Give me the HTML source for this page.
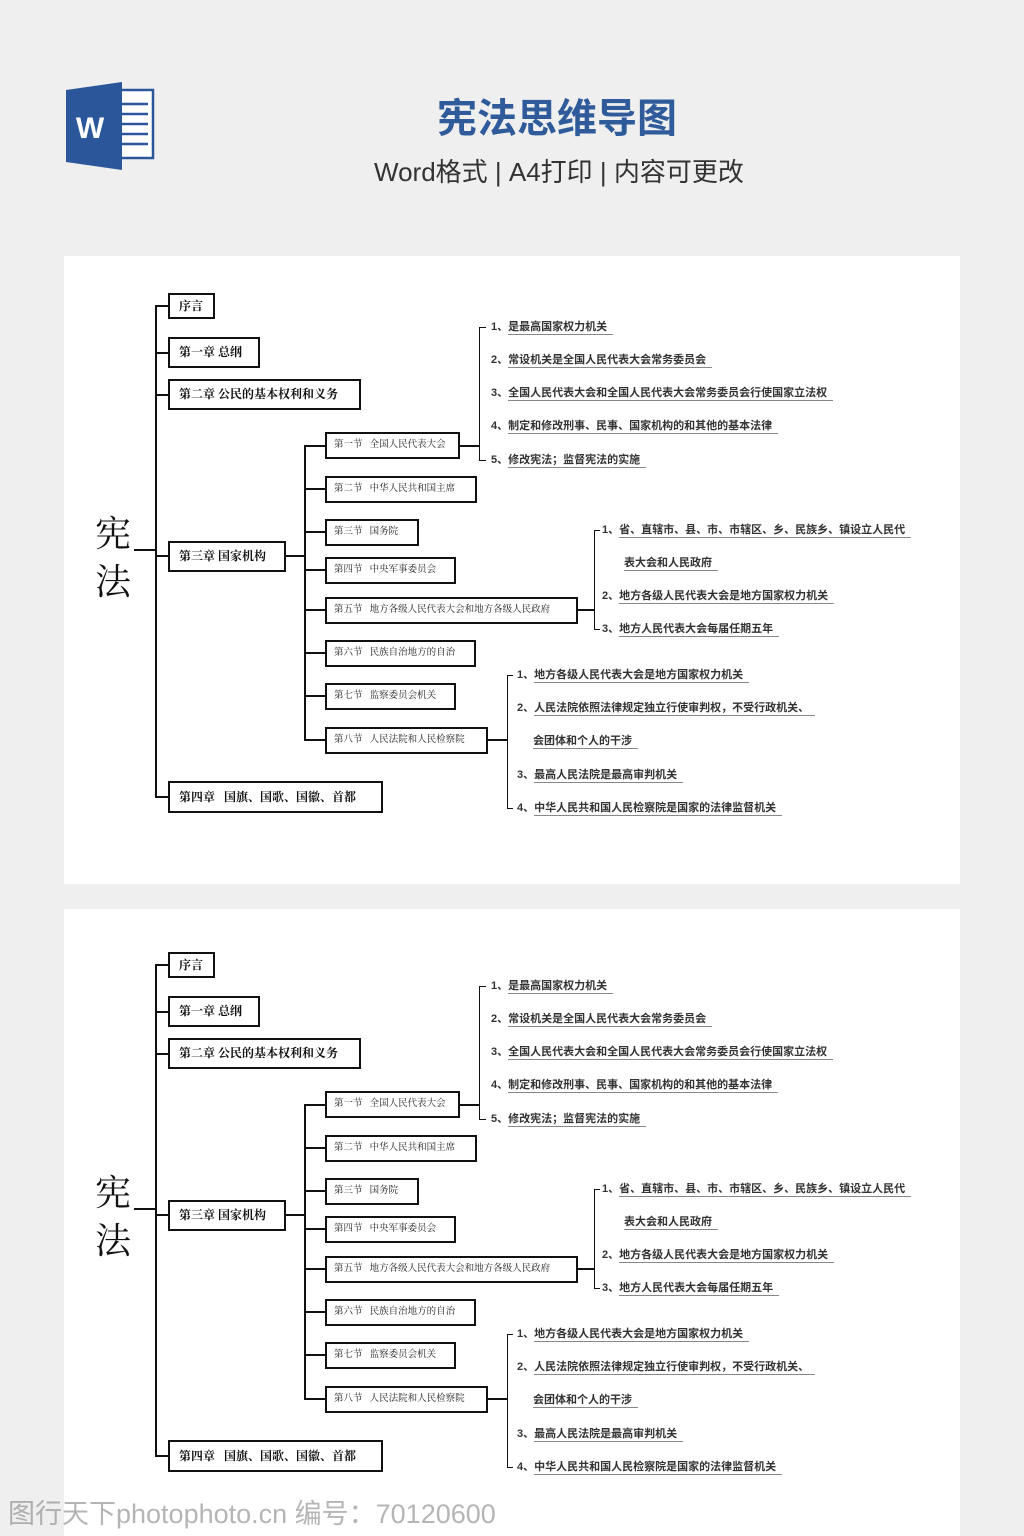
<!DOCTYPE html>
<html><head><meta charset="utf-8">
<style>
*{margin:0;padding:0;box-sizing:border-box}
body{width:1024px;height:1536px;background:#efefef;position:relative;overflow:hidden;font-family:"Liberation Sans","Noto Sans CJK SC",sans-serif}
.panel{position:absolute;left:64px;width:896px;background:#fff}
.g{position:absolute;left:0;top:0;width:1024px;height:1px}
.l{position:absolute;background:#111}
.b{position:absolute;border:2px solid #111;background:#fff;color:#111;font-weight:bold;white-space:nowrap;padding-left:9px;font-family:"Liberation Serif","Noto Serif CJK SC",serif}
.c{font-size:12px}
.s{font-size:9.5px;font-weight:normal;color:#222;padding-left:7px}
.t{position:absolute;font-size:11px;font-weight:bold;color:#333;white-space:nowrap;line-height:14px}
.t u{text-decoration:none;border-bottom:1px solid #888;padding-right:6px;padding-bottom:1px}
.root{position:absolute;left:95px;font-size:36px;line-height:48px;color:#111;font-family:"Liberation Serif","Noto Serif CJK SC",serif}
</style></head><body>

<!-- Word icon -->
<svg style="position:absolute;left:64px;top:80px" width="94" height="92" viewBox="0 0 94 92">
<rect x="50" y="10" width="39" height="68" fill="#fff" stroke="#2b579a" stroke-width="2.5"/>
<g stroke="#2b579a" stroke-width="2.5"><line x1="56" y1="24" x2="84" y2="24"/><line x1="56" y1="34" x2="84" y2="34"/><line x1="56" y1="44" x2="84" y2="44"/><line x1="56" y1="54" x2="84" y2="54"/><line x1="56" y1="64" x2="84" y2="64"/></g>
<polygon points="2,10 58,2 58,90 2,82" fill="#2b579a"/>
<text x="26" y="58" font-size="30" font-weight="bold" fill="#fff" text-anchor="middle" font-family="Liberation Sans,sans-serif">W</text>
</svg>
<div style="position:absolute;left:437px;top:95px;font-size:40px;line-height:48px;font-weight:bold;color:#2f5b9b;white-space:nowrap;font-family:'Liberation Sans','Noto Sans CJK SC',sans-serif">宪法思维导图</div>
<div style="position:absolute;left:374px;top:152px;font-size:26px;color:#333;font-family:'Liberation Sans','Noto Sans CJK SC',sans-serif">Word格式 | A4打印 | 内容可更改</div>

<div class="panel" style="top:256px;height:628px"></div>
<div class="panel" style="top:909px;height:627px"></div>

<!-- diagram 1 -->
<div class="g" style="top:0">
<div class="root" style="top:510px">宪<br>法</div>
<div class="l" style="left:134px;top:549px;width:22px;height:2px"></div>
<div class="l" style="left:155px;top:305px;width:2px;height:493px;border-radius:4px"></div>
<div class="l" style="left:155px;top:305px;width:13px;height:2px"></div>
<div class="l" style="left:155px;top:352px;width:13px;height:2px"></div>
<div class="l" style="left:155px;top:394px;width:13px;height:2px"></div>
<div class="l" style="left:155px;top:555px;width:13px;height:2px"></div>
<div class="l" style="left:155px;top:796px;width:13px;height:2px"></div>
<div class="b c" style="left:168px;top:293px;width:47px;height:26px;line-height:22px">序言</div>
<div class="b c" style="left:168px;top:337px;width:92px;height:31px;line-height:27px">第一章 总纲</div>
<div class="b c" style="left:168px;top:379px;width:193px;height:31px;line-height:27px">第二章 公民的基本权利和义务</div>
<div class="b c" style="left:168px;top:541px;width:118px;height:31px;line-height:27px">第三章 国家机构</div>
<div class="b c" style="left:168px;top:781px;width:215px;height:32px;line-height:28px">第四章 &nbsp; 国旗、国歌、国徽、首都</div>

<div class="l" style="left:285px;top:555px;width:21px;height:2px"></div>
<div class="l" style="left:304px;top:445px;width:2px;height:296px"></div>
<div class="l" style="left:304px;top:445px;width:21px;height:2px"></div>
<div class="l" style="left:304px;top:488px;width:21px;height:2px"></div>
<div class="l" style="left:304px;top:531px;width:21px;height:2px"></div>
<div class="l" style="left:304px;top:569px;width:21px;height:2px"></div>
<div class="l" style="left:304px;top:609px;width:21px;height:2px"></div>
<div class="l" style="left:304px;top:652px;width:21px;height:2px"></div>
<div class="l" style="left:304px;top:695px;width:21px;height:2px"></div>
<div class="l" style="left:304px;top:739px;width:21px;height:2px"></div>
<div class="b s" style="left:325px;top:432px;width:135px;height:27px;line-height:23px">第一节 &nbsp; 全国人民代表大会</div>
<div class="b s" style="left:325px;top:476px;width:152px;height:27px;line-height:23px">第二节 &nbsp; 中华人民共和国主席</div>
<div class="b s" style="left:325px;top:519px;width:94px;height:27px;line-height:23px">第三节 &nbsp; 国务院</div>
<div class="b s" style="left:325px;top:557px;width:131px;height:27px;line-height:23px">第四节 &nbsp; 中央军事委员会</div>
<div class="b s" style="left:325px;top:597px;width:253px;height:27px;line-height:23px">第五节 &nbsp; 地方各级人民代表大会和地方各级人民政府</div>
<div class="b s" style="left:325px;top:640px;width:151px;height:27px;line-height:23px">第六节 &nbsp; 民族自治地方的自治</div>
<div class="b s" style="left:325px;top:683px;width:131px;height:27px;line-height:23px">第七节 &nbsp; 监察委员会机关</div>
<div class="b s" style="left:325px;top:727px;width:163px;height:27px;line-height:23px">第八节 &nbsp; 人民法院和人民检察院</div>

<div class="l" style="left:459px;top:445px;width:21px;height:2px"></div>
<div class="l" style="left:479px;top:327px;width:1px;height:134px"></div>
<div class="l" style="left:479px;top:327px;width:7px;height:1px"></div>
<div class="l" style="left:479px;top:460px;width:7px;height:1px"></div>
<div class="t" style="left:491px;top:320px">1、<u>是最高国家权力机关</u></div>
<div class="t" style="left:491px;top:353px">2、<u>常设机关是全国人民代表大会常务委员会</u></div>
<div class="t" style="left:491px;top:386px">3、<u>全国人民代表大会和全国人民代表大会常务委员会行使国家立法权</u></div>
<div class="t" style="left:491px;top:419px">4、<u>制定和修改刑事、民事、国家机构的和其他的基本法律</u></div>
<div class="t" style="left:491px;top:453px">5、<u>修改宪法；监督宪法的实施</u></div>

<div class="l" style="left:577px;top:609px;width:17px;height:2px"></div>
<div class="l" style="left:594px;top:530px;width:1px;height:100px"></div>
<div class="l" style="left:594px;top:530px;width:6px;height:1px"></div>
<div class="l" style="left:594px;top:629px;width:6px;height:1px"></div>
<div class="t" style="left:602px;top:523px">1、<u>省、直辖市、县、市、市辖区、乡、民族乡、镇设立人民代</u></div>
<div class="t" style="left:624px;top:556px"><u>表大会和人民政府</u></div>
<div class="t" style="left:602px;top:589px">2、<u>地方各级人民代表大会是地方国家权力机关</u></div>
<div class="t" style="left:602px;top:622px">3、<u>地方人民代表大会每届任期五年</u></div>

<div class="l" style="left:487px;top:739px;width:20px;height:2px"></div>
<div class="l" style="left:507px;top:675px;width:1px;height:134px"></div>
<div class="l" style="left:507px;top:675px;width:6px;height:1px"></div>
<div class="l" style="left:507px;top:808px;width:6px;height:1px"></div>
<div class="t" style="left:517px;top:668px">1、<u>地方各级人民代表大会是地方国家权力机关</u></div>
<div class="t" style="left:517px;top:701px">2、<u>人民法院依照法律规定独立行使审判权，不受行政机关、</u></div>
<div class="t" style="left:533px;top:734px"><u>会团体和个人的干涉</u></div>
<div class="t" style="left:517px;top:768px">3、<u>最高人民法院是最高审判机关</u></div>
<div class="t" style="left:517px;top:801px">4、<u>中华人民共和国人民检察院是国家的法律监督机关</u></div>
</div>

<!-- diagram 2 -->
<div class="g" style="top:659px">
<div class="root" style="top:510px">宪<br>法</div>
<div class="l" style="left:134px;top:549px;width:22px;height:2px"></div>
<div class="l" style="left:155px;top:305px;width:2px;height:493px;border-radius:4px"></div>
<div class="l" style="left:155px;top:305px;width:13px;height:2px"></div>
<div class="l" style="left:155px;top:352px;width:13px;height:2px"></div>
<div class="l" style="left:155px;top:394px;width:13px;height:2px"></div>
<div class="l" style="left:155px;top:555px;width:13px;height:2px"></div>
<div class="l" style="left:155px;top:796px;width:13px;height:2px"></div>
<div class="b c" style="left:168px;top:293px;width:47px;height:26px;line-height:22px">序言</div>
<div class="b c" style="left:168px;top:337px;width:92px;height:31px;line-height:27px">第一章 总纲</div>
<div class="b c" style="left:168px;top:379px;width:193px;height:31px;line-height:27px">第二章 公民的基本权利和义务</div>
<div class="b c" style="left:168px;top:541px;width:118px;height:31px;line-height:27px">第三章 国家机构</div>
<div class="b c" style="left:168px;top:781px;width:215px;height:32px;line-height:28px">第四章 &nbsp; 国旗、国歌、国徽、首都</div>

<div class="l" style="left:285px;top:555px;width:21px;height:2px"></div>
<div class="l" style="left:304px;top:445px;width:2px;height:296px"></div>
<div class="l" style="left:304px;top:445px;width:21px;height:2px"></div>
<div class="l" style="left:304px;top:488px;width:21px;height:2px"></div>
<div class="l" style="left:304px;top:531px;width:21px;height:2px"></div>
<div class="l" style="left:304px;top:569px;width:21px;height:2px"></div>
<div class="l" style="left:304px;top:609px;width:21px;height:2px"></div>
<div class="l" style="left:304px;top:652px;width:21px;height:2px"></div>
<div class="l" style="left:304px;top:695px;width:21px;height:2px"></div>
<div class="l" style="left:304px;top:739px;width:21px;height:2px"></div>
<div class="b s" style="left:325px;top:432px;width:135px;height:27px;line-height:23px">第一节 &nbsp; 全国人民代表大会</div>
<div class="b s" style="left:325px;top:476px;width:152px;height:27px;line-height:23px">第二节 &nbsp; 中华人民共和国主席</div>
<div class="b s" style="left:325px;top:519px;width:94px;height:27px;line-height:23px">第三节 &nbsp; 国务院</div>
<div class="b s" style="left:325px;top:557px;width:131px;height:27px;line-height:23px">第四节 &nbsp; 中央军事委员会</div>
<div class="b s" style="left:325px;top:597px;width:253px;height:27px;line-height:23px">第五节 &nbsp; 地方各级人民代表大会和地方各级人民政府</div>
<div class="b s" style="left:325px;top:640px;width:151px;height:27px;line-height:23px">第六节 &nbsp; 民族自治地方的自治</div>
<div class="b s" style="left:325px;top:683px;width:131px;height:27px;line-height:23px">第七节 &nbsp; 监察委员会机关</div>
<div class="b s" style="left:325px;top:727px;width:163px;height:27px;line-height:23px">第八节 &nbsp; 人民法院和人民检察院</div>

<div class="l" style="left:459px;top:445px;width:21px;height:2px"></div>
<div class="l" style="left:479px;top:327px;width:1px;height:134px"></div>
<div class="l" style="left:479px;top:327px;width:7px;height:1px"></div>
<div class="l" style="left:479px;top:460px;width:7px;height:1px"></div>
<div class="t" style="left:491px;top:320px">1、<u>是最高国家权力机关</u></div>
<div class="t" style="left:491px;top:353px">2、<u>常设机关是全国人民代表大会常务委员会</u></div>
<div class="t" style="left:491px;top:386px">3、<u>全国人民代表大会和全国人民代表大会常务委员会行使国家立法权</u></div>
<div class="t" style="left:491px;top:419px">4、<u>制定和修改刑事、民事、国家机构的和其他的基本法律</u></div>
<div class="t" style="left:491px;top:453px">5、<u>修改宪法；监督宪法的实施</u></div>

<div class="l" style="left:577px;top:609px;width:17px;height:2px"></div>
<div class="l" style="left:594px;top:530px;width:1px;height:100px"></div>
<div class="l" style="left:594px;top:530px;width:6px;height:1px"></div>
<div class="l" style="left:594px;top:629px;width:6px;height:1px"></div>
<div class="t" style="left:602px;top:523px">1、<u>省、直辖市、县、市、市辖区、乡、民族乡、镇设立人民代</u></div>
<div class="t" style="left:624px;top:556px"><u>表大会和人民政府</u></div>
<div class="t" style="left:602px;top:589px">2、<u>地方各级人民代表大会是地方国家权力机关</u></div>
<div class="t" style="left:602px;top:622px">3、<u>地方人民代表大会每届任期五年</u></div>

<div class="l" style="left:487px;top:739px;width:20px;height:2px"></div>
<div class="l" style="left:507px;top:675px;width:1px;height:134px"></div>
<div class="l" style="left:507px;top:675px;width:6px;height:1px"></div>
<div class="l" style="left:507px;top:808px;width:6px;height:1px"></div>
<div class="t" style="left:517px;top:668px">1、<u>地方各级人民代表大会是地方国家权力机关</u></div>
<div class="t" style="left:517px;top:701px">2、<u>人民法院依照法律规定独立行使审判权，不受行政机关、</u></div>
<div class="t" style="left:533px;top:734px"><u>会团体和个人的干涉</u></div>
<div class="t" style="left:517px;top:768px">3、<u>最高人民法院是最高审判机关</u></div>
<div class="t" style="left:517px;top:801px">4、<u>中华人民共和国人民检察院是国家的法律监督机关</u></div>
</div>

<div style="position:absolute;left:8px;top:1492px;font-size:27px;color:rgba(120,120,120,0.55);white-space:nowrap">图行天下photophoto.cn 编号：70120600</div>
</body></html>
